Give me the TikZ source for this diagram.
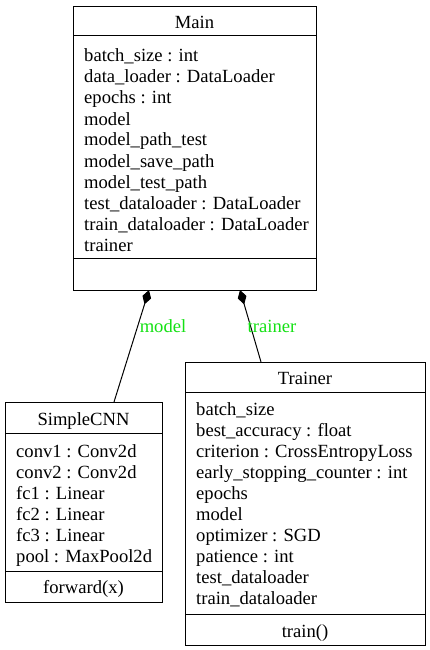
\documentclass[tikz,border=0pt]{standalone}
\usepackage{fontspec}
\setmainfont{Liberation Serif}
\usetikzlibrary{arrows.meta}
\definecolor{lblgreen}{RGB}{20,225,20}
\tikzset{
  classbox/.style={draw=black, line width=1pt, inner sep=0pt, anchor=north west},
  attr/.style={anchor=base west, inner sep=0pt, font=\fontsize{18.6}{21}\selectfont},
  ttl/.style={anchor=base, inner sep=0pt, font=\fontsize{18.6}{21}\selectfont},
  elbl/.style={anchor=base, inner sep=0pt, text=lblgreen, font=\fontsize{18.6}{21}\selectfont},
  divider/.style={line width=1pt},
  comp/.style={line width=1pt, {Diamond[length=15pt,width=9pt]}-}
}
\begin{document}
\begin{tikzpicture}[x=1pt,y=-1pt]
\useasboundingbox (0,0) rectangle (429,650);
% Main
\node[classbox, minimum width=243pt, minimum height=284pt] (main) at (73,6) {};
\node[ttl] (mainT) at (194.5,29) {Main};
\draw[divider] (main.west |- 0,36) -- (main.east |- 0,36);
\node[attr] (m1) at (84,62) {batch\_size : int};
\node[attr] (m2) at (84,83) {data\_loader : DataLoader};
\node[attr] (m3) at (84,104) {epochs : int};
\node[attr] (m4) at (84,125) {model};
\node[attr] (m5) at (84,146) {model\_path\_test};
\node[attr] (m6) at (84,167) {model\_save\_path};
\node[attr] (m7) at (84,188) {model\_test\_path};
\node[attr] (m8) at (84,209) {test\_dataloader : DataLoader};
\node[attr] (m9) at (84,230) {train\_dataloader : DataLoader};
\node[attr] (m10) at (84,251) {trainer};
\draw[divider] (main.west |- 0,258) -- (main.east |- 0,258);
% SimpleCNN
\node[classbox, minimum width=157pt, minimum height=200pt] (cnn) at (5,402) {};
\node[ttl] (cnnT) at (83.5,425) {SimpleCNN};
\draw[divider] (cnn.west |- 0,433) -- (cnn.east |- 0,433);
\node[attr] (c1) at (16,457) {conv1 : Conv2d};
\node[attr] (c2) at (16,478) {conv2 : Conv2d};
\node[attr] (c3) at (16,499) {fc1 : Linear};
\node[attr] (c4) at (16,520) {fc2 : Linear};
\node[attr] (c5) at (16,541) {fc3 : Linear};
\node[attr] (c6) at (16,562) {pool : MaxPool2d};
\draw[divider] (cnn.west |- 0,571) -- (cnn.east |- 0,571);
\node[ttl] (cnnM) at (83.5,593) {forward(x)};
% Trainer
\node[classbox, minimum width=240pt, minimum height=283pt] (trn) at (185,362) {};
\node[ttl] (trnT) at (305,384) {Trainer};
\draw[divider] (trn.west |- 0,392) -- (trn.east |- 0,392);
\node[attr] (t1) at (196,415) {batch\_size};
\node[attr] (t2) at (196,436) {best\_accuracy : float};
\node[attr] (t3) at (196,457) {criterion : CrossEntropyLoss};
\node[attr] (t4) at (196,478) {early\_stopping\_counter : int};
\node[attr] (t5) at (196,499) {epochs};
\node[attr] (t6) at (196,520) {model};
\node[attr] (t7) at (196,541) {optimizer : SGD};
\node[attr] (t8) at (196,562) {patience : int};
\node[attr] (t9) at (196,583) {test\_dataloader};
\node[attr] (t10) at (196,604) {train\_dataloader};
\draw[divider] (trn.west |- 0,614) -- (trn.east |- 0,614);
\node[ttl] (trnM) at (305,637) {train()};
% connectors
\coordinate (mA) at (149,290);
\coordinate (cA) at (114,402);
\coordinate (mB) at (240,290);
\coordinate (tB) at (261,362);
\draw[comp] (mA) -- (cA);
\draw[comp] (mB) -- (tB);
\node[elbl] (lm) at (163,332) {model};
\node[elbl] (lt) at (272,332) {trainer};
\end{tikzpicture}
\end{document}
